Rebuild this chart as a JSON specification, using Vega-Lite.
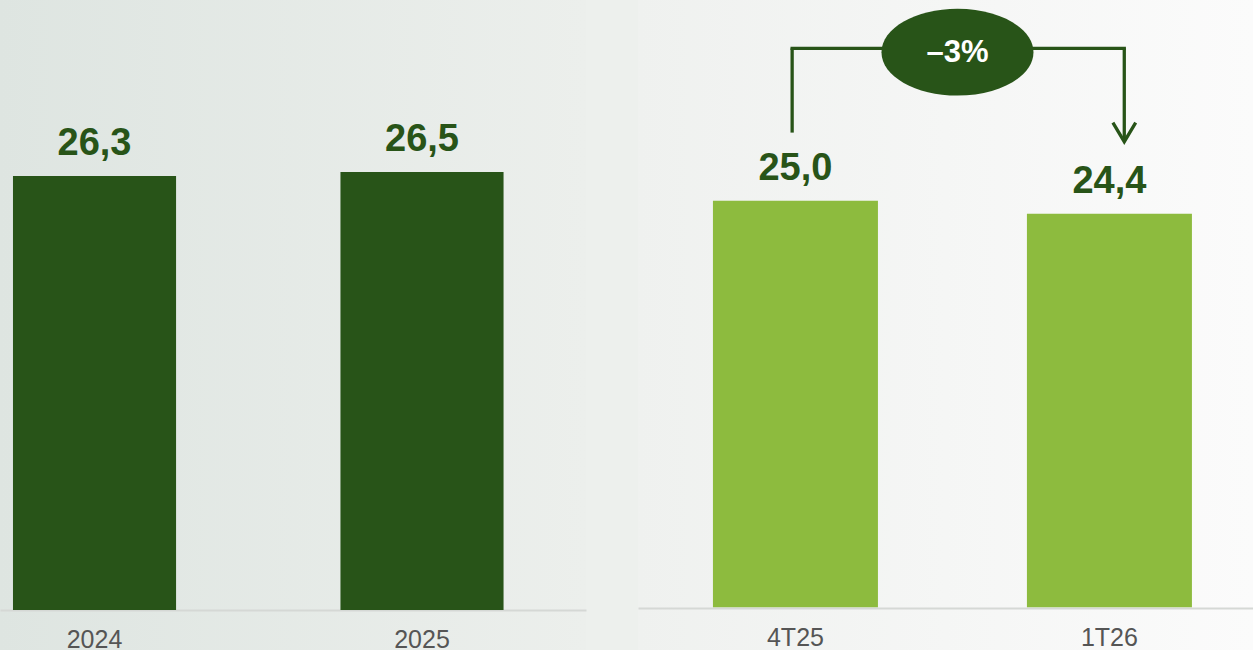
{
  "$schema": "https://vega.github.io/schema/vega-lite/v6.json",
  "background": "#EDF0ED",
  "padding": 0,
  "spacing": 52,
  "config": {
    "view": {"stroke": null},
    "axis": {"grid": false},
    "axisX": {"domainColor": "#D5D8D5", "domainWidth": 2, "ticks": false, "tickSize": 0, "labelFont": "Liberation Sans", "labelFontSize": 25, "labelColor": "#555555", "labelPadding": 17, "labelAngle": 0, "title": null},
    "text": {"font": "Liberation Sans"}
  },
  "datasets": {
    "annual": [
      {"period": "2024", "value": 26.3, "label": "26,3"},
      {"period": "2025", "value": 26.5, "label": "26,5"}
    ],
    "quarterly": [
      {"period": "4T25", "value": 25.0, "label": "25,0"},
      {"period": "1T26", "value": 24.4, "label": "24,4"}
    ],
    "change": [
      {"from": "4T25", "to": "1T26", "label": "–3%"}
    ]
  },
  "hconcat": [
    {
      "width": 586,
      "height": 650,
      "view": {"stroke": null, "fill": {"gradient": "linear", "x1": 0, "y1": 0, "x2": 1, "y2": 0, "stops": [{"offset": 0, "color": "#DEE5E1"}, {"offset": 1, "color": "#ECEFEC"}]}},
      "data": {"name": "annual"},
      "encoding": {
        "x": {"field": "period", "type": "nominal", "scale": {"domain": ["2024", "2025"], "paddingInner": 0.502, "paddingOuter": 0.1457, "align": 0.136}, "axis": {"offset": -40, "title": null}},
        "y": {"field": "value", "type": "quantitative", "scale": {"domain": [2.6, 35.1], "zero": false, "nice": false}, "axis": null}
      },
      "layer": [
        {"mark": {"type": "bar", "color": "#285418"}, "encoding": {"y2": {"datum": 4.6}}},
        {"mark": {"type": "text", "fontSize": 38, "fontWeight": "bold", "color": "#285418", "baseline": "alphabetic", "dy": -21}, "encoding": {"text": {"field": "label"}}}
      ]
    },
    {
      "width": 615,
      "height": 650,
      "view": {"stroke": null, "fill": {"gradient": "linear", "x1": 0, "y1": 0, "x2": 1, "y2": 0, "stops": [{"offset": 0, "color": "#EFF1EF"}, {"offset": 1, "color": "#FBFBFB"}]}},
      "layer": [
        {
          "data": {"name": "quarterly"},
          "mark": {"type": "bar", "color": "#8DBB3E"},
          "encoding": {
            "x": {"field": "period", "type": "nominal", "scale": {"domain": ["4T25", "1T26"], "paddingInner": 0.4745, "paddingOuter": 0.2166, "align": 0.551}, "axis": {"offset": -42, "title": null}},
            "y": {"field": "value", "type": "quantitative", "scale": {"domain": [4.26, 34.26], "zero": false, "nice": false}, "axis": null},
            "y2": {"datum": 6.23}
          }
        },
        {
          "data": {"name": "quarterly"},
          "mark": {"type": "text", "fontSize": 38, "fontWeight": "bold", "color": "#285418", "baseline": "alphabetic", "dy": -21},
          "encoding": {
            "x": {"field": "period", "type": "nominal"},
            "y": {"field": "value", "type": "quantitative"},
            "text": {"field": "label"}
          }
        },
        {
          "data": {"name": "change"},
          "mark": {"type": "rule", "color": "#285418", "strokeWidth": 3.3},
          "encoding": {
            "x": {"field": "from", "type": "nominal", "bandPosition": 0.48},
            "y": {"datum": 32.03, "type": "quantitative"},
            "y2": {"datum": 28.14}
          }
        },
        {
          "data": {"name": "change"},
          "mark": {"type": "rule", "color": "#285418", "strokeWidth": 3.3, "strokeCap": "square"},
          "encoding": {
            "x": {"field": "from", "type": "nominal", "bandPosition": 0.48},
            "x2": {"field": "to", "bandPosition": 0.59},
            "y": {"datum": 32.03, "type": "quantitative"}
          }
        },
        {
          "data": {"name": "change"},
          "mark": {"type": "rule", "color": "#285418", "strokeWidth": 3.3},
          "encoding": {
            "x": {"field": "to", "type": "nominal", "bandPosition": 0.59},
            "y": {"datum": 32.03, "type": "quantitative"},
            "y2": {"datum": 27.8}
          }
        },
        {
          "data": {"name": "change"},
          "mark": {"type": "point", "shape": "M-0.6,-1L0,0L0.6,-1", "size": 1444, "filled": false, "stroke": "#285418", "strokeWidth": 3.3, "strokeJoin": "miter", "opacity": 1},
          "encoding": {
            "x": {"field": "to", "type": "nominal", "bandPosition": 0.59},
            "y": {"datum": 27.72, "type": "quantitative"}
          }
        },
        {
          "data": {"name": "change"},
          "mark": {"type": "point", "shape": "M-1,0C-1,-0.3154,-0.5523,-0.571,0,-0.571C0.5523,-0.571,1,-0.3154,1,0C1,0.3154,0.5523,0.571,0,0.571C-0.5523,0.571,-1,0.3154,-1,0Z", "size": 23104, "filled": true, "fill": "#285418", "strokeWidth": 0, "opacity": 1},
          "encoding": {
            "x": {"field": "from", "type": "nominal", "bandPosition": 1.482},
            "y": {"datum": 31.85, "type": "quantitative"}
          }
        },
        {
          "data": {"name": "change"},
          "mark": {"type": "text", "fontSize": 31, "fontWeight": "bold", "color": "#FFFFFF", "baseline": "middle", "align": "center", "dy": 1},
          "encoding": {
            "x": {"field": "from", "type": "nominal", "bandPosition": 1.482},
            "y": {"datum": 31.85, "type": "quantitative"},
            "text": {"field": "label"}
          }
        }
      ]
    }
  ]
}
